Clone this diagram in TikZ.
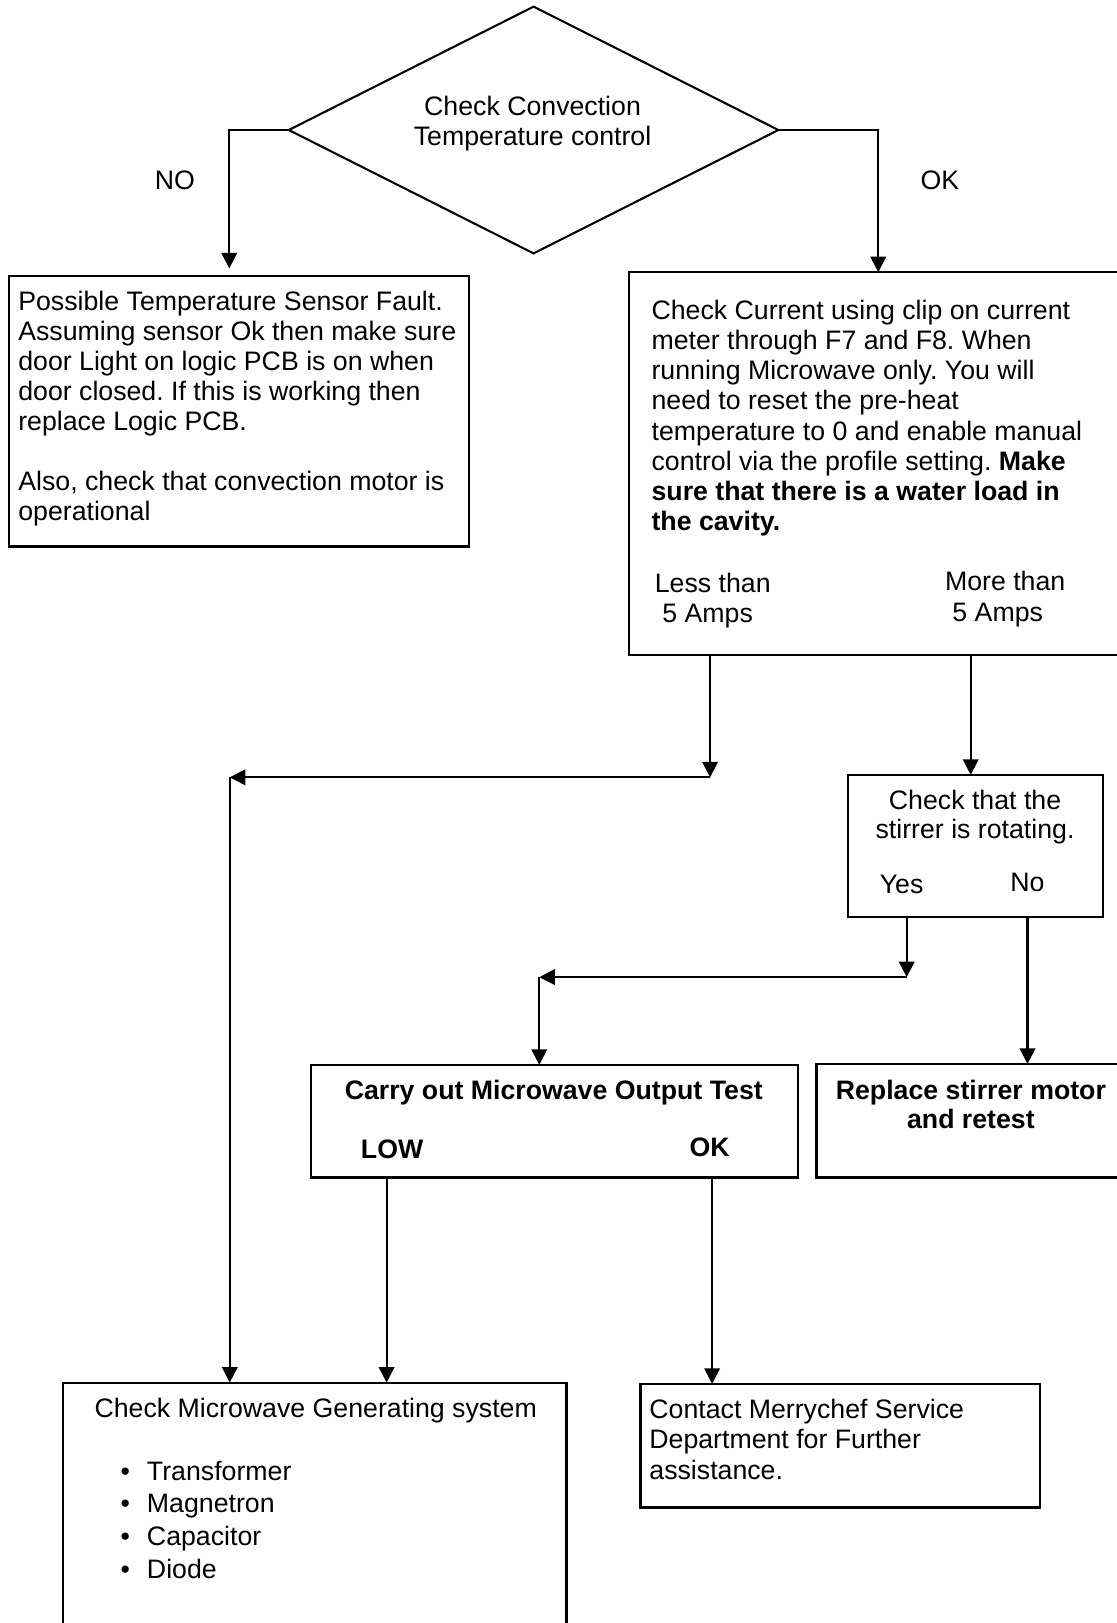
\documentclass[tikz,border=0pt]{standalone}
\usepackage{fontspec}
\setmainfont{Liberation Sans}
\usetikzlibrary{arrows.meta,shapes.geometric}
\frenchspacing
\newcommand\boxtxtL[3]{\parbox[t]{#1}{\fontsize{12.9pt}{#2}\selectfont\raggedright #3}}
\newcommand\boxtxtC[3]{\parbox[t]{#1}{\fontsize{12.9pt}{#2}\selectfont\centering #3}}
\begin{document}
\begin{tikzpicture}[x=0.5pt,y=-0.5pt,
  box/.style={draw,line width=1pt,inner sep=0pt,outer sep=0pt,anchor=north west},
  txt/.style={inner sep=0pt,outer sep=0pt,anchor=base west,font=\fontsize{12.9pt}{14.6pt}\selectfont},
  ctxt/.style={inner sep=0pt,outer sep=0pt,anchor=base,font=\fontsize{12.9pt}{14.6pt}\selectfont},
  arr/.style={line width=1pt,-{Triangle[length=7.5pt,width=7.5pt]}}]
\useasboundingbox (0,0) rectangle (1079,1568);
\clip (0,0) rectangle (1079,1568);

% decision diamond
\node[draw,diamond,line width=1pt,inner sep=0pt,outer sep=0pt,
      minimum width=236.5pt,minimum height=119.2pt] (dia) at (515.5,125.6) {};
\node[ctxt] (dtext) at (514.5,112) {\boxtxtC{200pt}{14.5pt}{Check Convection\\Temperature control}};
\node[ctxt] (nolab) at (169,183) {NO};
\node[ctxt] (oklab) at (908,183) {OK};

% boxes
\node[box,minimum width=222.35pt,minimum height=130.85pt] (lbox) at (8.7,266.3) {};
\node[box,minimum width=300pt,minimum height=184.85pt] (rbox) at (608,263) {};
\node[box,minimum width=123.55pt,minimum height=68.45pt] (sbox) at (818.9,748.6) {};
\node[box,minimum width=235.2pt,minimum height=54.4pt] (cbox) at (300.4,1028.8) {};
\node[box,minimum width=200pt,minimum height=54.9pt] (repbox) at (788.8,1027.8) {};
\node[box,minimum width=243.3pt,minimum height=200pt] (gbox) at (60.7,1335.7) {};
\node[box,minimum width=192.8pt,minimum height=59.7pt] (mbox) at (618.8,1337) {};

% texts
\node[txt] (ltext) at (17.7,299.5) {\boxtxtL{300pt}{14.5pt}{Possible Temperature Sensor Fault.\\
Assuming sensor Ok then make sure\\
door Light on logic PCB is on when\\
door closed. If this is working then\\
replace Logic PCB.\\[14.5pt]
Also, check that convection motor is\\
operational}};

\node[txt] (rtext) at (629.5,308.5) {\boxtxtL{300pt}{14.6pt}{Check Current using clip on current\\
meter through F7 and F8. When\\
running Microwave only. You will\\
need to reset the pre-heat\\
temperature to 0 and enable manual\\
control via the profile setting. \textbf{Make}\\
\textbf{sure that there is a water load in}\\
\textbf{the cavity.}}};

\node[txt] (less) at (632.7,572) {\boxtxtL{100pt}{14.75pt}{Less than\\\hspace*{3.6pt}5 Amps}};
\node[txt] (more) at (913,570.6) {\boxtxtL{100pt}{14.95pt}{More than\\\hspace*{3.6pt}5 Amps}};

\node[ctxt] (stext) at (942,781.8) {\boxtxtC{120pt}{14pt}{Check that the\\stirrer is rotating.}};
\node[ctxt] (yes) at (871,863) {Yes};
\node[ctxt] (no) at (992.7,861.4) {No};

\node[ctxt,font=\fontsize{12.9pt}{14.6pt}\selectfont\bfseries] (ctext) at (535,1062.6) {Carry out Microwave Output Test};
\node[txt,font=\fontsize{12.9pt}{14.6pt}\selectfont\bfseries] (low) at (348.7,1119) {LOW};
\node[ctxt,font=\fontsize{12.9pt}{14.6pt}\selectfont\bfseries] (okb) at (685.5,1117.4) {OK};

\node[ctxt] (reptext) at (938,1062.6) {\boxtxtC{150pt}{13.7pt}{\bfseries Replace stirrer motor\\and retest}};

\node[txt] (gtext) at (91.4,1369.5) {Check Microwave Generating system};
\node[txt] (glist) at (116.5,1430) {\boxtxtL{150pt}{15.8pt}{\makebox[12.75pt][l]{•}Transformer\\
\makebox[12.75pt][l]{•}Magnetron\\
\makebox[12.75pt][l]{•}Capacitor\\
\makebox[12.75pt][l]{•}Diode}};

\node[txt] (mtext) at (627.4,1370.5) {\boxtxtL{190pt}{14.6pt}{Contact Merrychef Service\\
Department for Further\\
assistance.}};

% junction coordinates
\coordinate (cNO) at (221.5,125.6);
\coordinate (cOK) at (848.5,125.6);
\coordinate (j1) at (686,751);
\coordinate (j2) at (222,751);
\coordinate (j3) at (876,944);
\coordinate (j4) at (521,944);
\coordinate (xS) at (937.8,0);
\coordinate (xNo) at (992.7,0);
\coordinate (xLow) at (373.5,0);
\coordinate (xOK) at (688,0);

% connectors
\draw[arr,shorten >=3.5pt] (dia.west) -- (cNO) -- (cNO |- lbox.north);
\draw[arr] (dia.east) -- (cOK) -- (cOK |- rbox.north);
\draw[arr] (j1 |- rbox.south) -- (j1);
\draw[arr] (j1) -- (j2);
\draw[arr] (j2) -- (j2 |- gbox.north);
\draw[arr] (xS |- rbox.south) -- (xS |- sbox.north);
\draw[arr] (j3 |- sbox.south) -- (j3);
\draw[arr] (j3) -- (j4);
\draw[arr] (j4) -- (j4 |- cbox.north);
\draw[arr] (xNo |- sbox.south) -- (xNo |- repbox.north);
\draw[arr] (xLow |- cbox.south) -- (xLow |- gbox.north);
\draw[arr] (xOK |- cbox.south) -- (xOK |- mbox.north);
\end{tikzpicture}
\end{document}
